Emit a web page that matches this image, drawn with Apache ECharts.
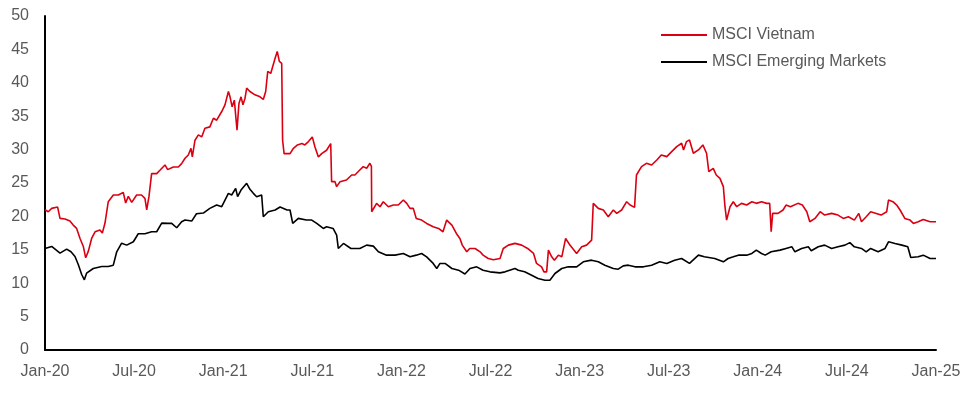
<!DOCTYPE html>
<html>
<head>
<meta charset="utf-8">
<script src="https://cdn.jsdelivr.net/npm/echarts@6/dist/echarts.min.js"></script>
<style>
html,body{margin:0;padding:0;background:#fff;}
#chart{width:970px;height:394px;}
</style>
</head>
<body>
<div id="chart"></div>
<script>
// x positions are months since Jan-2020
const seriesNames = ['MSCI Vietnam', 'MSCI Emerging Markets'];
const yTicks = [0, 5, 10, 15, 20, 25, 30, 35, 40, 45, 50];
const xTickLabels = ['Jan-20','Jul-20','Jan-21','Jul-21','Jan-22','Jul-22','Jan-23','Jul-23','Jan-24','Jul-24','Jan-25'];

const vietnamX = [0,0.22,0.45,0.85,1.01,1.35,1.68,1.9,2.13,2.36,2.58,2.74,2.92,3.14,3.37,3.7,3.86,4.04,4.26,4.6,4.94,5.27,5.43,5.61,5.84,6.17,6.5,6.73,6.85,7.0,7.18,7.52,7.74,8.08,8.26,8.64,8.98,9.2,9.43,9.65,9.83,9.92,10.1,10.33,10.55,10.77,11.1,11.34,11.56,11.9,12.12,12.35,12.46,12.6,12.75,12.93,13.06,13.2,13.33,13.47,13.58,13.8,14.14,14.48,14.7,14.86,15.0,15.2,15.5,15.64,15.78,15.94,16.0,16.1,16.5,16.73,17.0,17.3,17.5,17.74,18.0,18.18,18.41,18.63,18.96,19.24,19.3,19.53,19.64,19.87,20.3,20.65,20.87,21.2,21.43,21.66,21.88,21.98,22.0,22.33,22.56,22.78,23.12,23.46,23.79,24.13,24.36,24.58,24.8,25.0,25.36,25.7,26.14,26.5,26.8,27.05,27.4,27.7,27.94,28.1,28.4,28.6,28.96,29.3,29.5,29.85,30.19,30.64,30.75,30.86,31.2,31.65,32.1,32.5,32.9,33.1,33.44,33.6,33.78,33.9,34.12,34.3,34.57,34.8,35.06,35.35,35.8,36.14,36.47,36.81,36.92,37.26,37.6,37.93,38.27,38.5,38.83,39.17,39.4,39.7,39.83,40.17,40.5,40.85,41.2,41.5,41.87,42.2,42.54,42.87,43.0,43.2,43.4,43.66,44.0,44.3,44.55,44.7,45.0,45.2,45.45,45.68,45.79,45.9,46.13,46.35,46.58,46.9,47.25,47.6,47.9,48.25,48.6,48.8,48.9,49.0,49.36,49.7,49.9,50.2,50.7,51.0,51.3,51.5,51.85,52.2,52.5,52.97,53.4,53.76,54.1,54.5,54.8,54.98,55.3,55.6,55.98,56.3,56.68,56.8,57.1,57.35,57.58,57.9,58.25,58.48,58.8,59.14,59.6,60.0];
const vietnamY = [21.0,20.7,21.2,21.4,19.7,19.6,19.3,18.7,18.2,16.7,15.5,13.8,14.8,16.7,17.7,17.96,17.5,19.0,22.2,23.2,23.2,23.6,22.0,23.0,22.1,23.2,23.2,22.7,20.96,22.95,26.4,26.4,26.9,27.7,27.0,27.4,27.4,27.9,28.7,29.2,30.2,28.9,31.4,32.2,31.9,33.2,33.4,34.7,34.4,35.7,36.7,38.7,37.9,36.4,37.4,32.9,36.9,37.9,36.7,37.7,39.2,38.7,38.2,37.9,37.5,38.7,41.7,41.4,43.7,44.7,43.2,42.9,31.4,29.4,29.4,30.2,30.7,30.9,30.7,31.2,31.9,30.4,28.9,29.4,29.9,30.9,25.2,25.2,24.45,25.2,25.45,26.2,26.2,26.95,27.45,27.2,27.95,27.5,20.7,21.95,21.45,22.2,21.45,21.7,21.7,22.45,21.95,21.2,21.2,19.7,19.45,18.95,18.45,18.2,17.7,19.45,18.7,17.45,16.7,15.7,14.7,15.2,15.2,14.7,14.2,13.7,13.5,13.7,13.5,15.2,15.7,15.96,15.7,15.2,14.45,12.96,12.45,11.7,11.7,14.95,13.95,13.45,14.2,13.95,16.7,15.7,14.45,15.45,15.7,16.45,21.95,21.2,20.96,19.95,20.96,20.45,20.96,22.2,21.7,21.35,26.2,27.45,27.95,27.7,28.45,29.2,28.95,29.7,30.45,30.95,29.95,31.2,31.45,29.45,29.95,30.7,29.45,26.7,27.2,26.2,25.7,24.45,21.45,19.45,21.45,22.2,21.45,21.95,21.7,22.2,21.95,22.2,21.95,21.95,17.7,20.45,20.45,20.96,21.7,21.45,21.95,21.7,20.7,19.2,19.7,20.7,20.2,20.45,20.2,19.7,19.95,19.45,20.45,19.2,19.95,20.7,20.45,20.2,20.7,22.45,22.2,21.7,20.96,19.7,19.45,18.95,19.2,19.55,19.2,19.2];

const emX = [0,0.45,1.01,1.46,1.75,2.02,2.24,2.47,2.65,2.8,3.25,3.82,4.26,4.6,4.83,5.16,5.5,5.95,6.28,6.73,7.18,7.52,7.86,8.3,8.53,8.87,9.2,9.43,9.88,10.2,10.66,11.1,11.56,11.9,12.35,12.57,12.84,12.97,13.2,13.58,13.8,14.03,14.25,14.59,14.7,15.04,15.5,15.83,16.3,16.5,16.68,17.06,17.6,17.96,18.3,18.74,18.96,19.4,19.64,19.75,20.1,20.6,21.2,21.66,22.11,22.45,23.0,23.57,24.13,24.58,25.0,25.36,25.7,26.14,26.38,26.6,26.94,27.4,27.85,28.28,28.62,29.07,29.5,29.96,30.64,30.98,31.65,31.87,32.3,32.77,33.2,33.67,34.0,34.34,34.8,35.24,35.8,36.25,36.8,37.26,37.7,38.27,38.6,38.94,39.28,39.73,40.3,40.85,41.4,41.87,42.4,42.87,43.4,44.0,44.4,45.1,45.68,46.0,46.35,46.69,47.25,47.6,47.9,48.25,48.5,48.9,49.5,49.9,50.3,50.5,50.95,51.4,51.6,52.07,52.5,52.97,53.4,53.87,54.2,54.5,54.98,55.3,55.6,56.1,56.57,56.8,57.24,57.7,58.1,58.3,58.8,59.14,59.6,60.0];
const emY = [15.2,15.5,14.5,15.1,14.7,14.0,12.8,11.3,10.5,11.5,12.2,12.5,12.5,12.7,14.7,15.99,15.7,16.2,17.4,17.4,17.7,17.7,19.0,18.95,18.95,18.3,19.2,19.45,19.3,20.4,20.5,21.2,21.7,21.45,23.45,23.2,24.2,22.95,23.95,24.95,24.05,23.45,22.95,23.2,19.95,20.7,20.96,21.4,20.96,20.96,18.96,19.7,19.45,19.45,18.96,18.2,18.45,18.2,17.2,15.2,15.95,15.2,15.2,15.7,15.55,14.7,14.2,14.2,14.45,13.95,14.2,14.45,13.95,12.96,12.2,12.96,12.96,12.2,11.95,11.37,12.2,12.45,11.95,11.7,11.55,11.7,12.2,11.95,11.7,11.2,10.7,10.45,10.45,11.45,12.2,12.45,12.45,13.2,13.45,13.2,12.7,12.2,12.1,12.6,12.7,12.45,12.45,12.7,13.2,12.96,13.45,13.7,12.96,14.2,13.95,13.7,13.2,13.7,13.95,14.2,14.2,14.45,14.95,14.45,14.2,14.7,14.95,15.2,15.45,14.7,15.2,15.45,14.85,15.45,15.7,15.2,15.45,15.7,16.07,15.45,15.2,14.7,15.2,14.7,15.2,16.2,15.95,15.7,15.45,13.85,13.95,14.2,13.7,13.7];

function pairs(xs, ys) { return xs.map((x, i) => [x, ys[i]]); }

const TEXT = '#595959';
const chart = echarts.init(document.getElementById('chart'), null, {renderer: 'canvas'});
chart.setOption({
  animation: false,
  backgroundColor: '#fff',
  textStyle: {fontFamily: '"Liberation Sans", Arial, sans-serif'},
  grid: {left: 45, right: 34, top: 16, bottom: 44, containLabel: false},
  legend: {
    data: seriesNames,
    orient: 'vertical',
    left: 661,
    top: 27,
    padding: 0,
    icon: 'rect',
    itemWidth: 46,
    itemHeight: 2,
    itemGap: 11,
    textStyle: {fontSize: 16, color: TEXT}
  },
  xAxis: {
    type: 'value',
    min: 0,
    max: 60,
    interval: 6,
    axisLine: {show: true, onZero: false, lineStyle: {color: '#000', width: 2}},
    axisTick: {show: false},
    splitLine: {show: false},
    axisLabel: {
      fontSize: 16, color: TEXT, margin: 14,
      showMinLabel: true, showMaxLabel: true,
      formatter: v => xTickLabels[Math.round(v / 6)] || ''
    }
  },
  yAxis: {
    type: 'value',
    min: yTicks[0],
    max: yTicks[yTicks.length - 1],
    interval: 5,
    axisLine: {show: true, lineStyle: {color: '#000', width: 2}},
    axisTick: {show: false},
    splitLine: {show: false},
    axisLabel: {fontSize: 16, color: TEXT, margin: 16}
  },
  series: [
    {
      name: seriesNames[0], type: 'line', data: pairs(vietnamX, vietnamY),
      symbol: 'none', showSymbol: false,
      lineStyle: {color: '#DB0011', width: 1.6}, itemStyle: {color: '#DB0011'}
    },
    {
      name: seriesNames[1], type: 'line', data: pairs(emX, emY),
      symbol: 'none', showSymbol: false,
      lineStyle: {color: '#000000', width: 1.6}, itemStyle: {color: '#000000'}
    }
  ]
});
</script>
</body>
</html>
